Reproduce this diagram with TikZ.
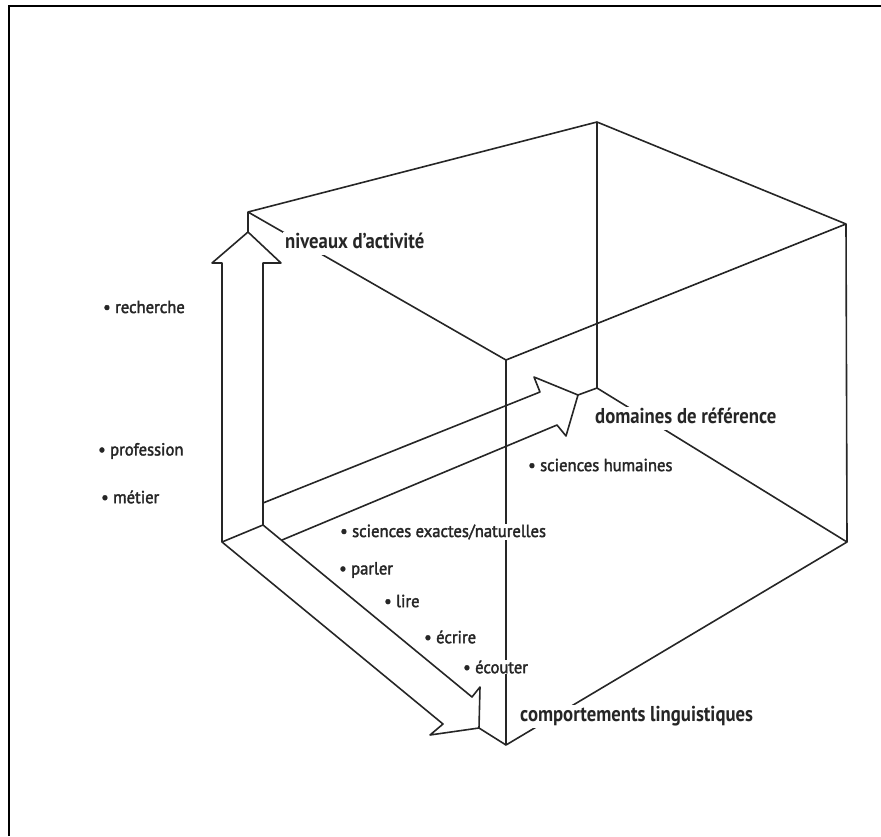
\documentclass[tikz,border=0pt]{standalone}
\usepackage{fontspec}
\setmainfont{PT Sans}[FakeStretch=0.87]
\newfontfamily\itemfont{PT Sans}[FakeStretch=0.95, FakeBold=2]
\usetikzlibrary{calc}
\tikzset{edge/.style={line width=1.6pt, line join=round, draw=black!85}}

\begin{document}
\begin{tikzpicture}[
    x = 1pt, y = -1pt,
    head/.style = {fill=white, inner sep=2pt, anchor=west, text=black!85,
        text height=15pt, text depth=4pt,
        font=\bfseries\fontsize{21.5}{21.5}\selectfont},
    item/.style = {fill=white, inner sep=1pt, anchor=west, text=black!85,
        font=\itemfont\fontsize{17.5}{17.5}\selectfont}
  ]
  \useasboundingbox (0,0) rectangle (881,836);
  \draw[line width=2.2pt] (9,836) -- (9,5.7) -- (881,5.7);

  % cube corners
  \foreach \n/\x/\y in {A/248/212, B/597/122, C/846/224, D/506/360,
                        E/597/388, F/847/542, G/506/745}
    \coordinate (\n) at (\x,\y);
  % hollow arrows
  \foreach \n/\x/\y in {n0/222/542, n1/222/263, n2/212/263, n3/248/232,
                        n4/281/263, n5/263/263, n6/263/525,
                        d0/263/503, d1/540/392, d2/534/377, d3/578/395,
                        d4/566/436, d5/557/425, d6/282/540,
                        c1/472/697, c2/480/687, c3/479/728,
                        c4/430/735, c5/443/724}
    \coordinate (\n) at (\x,\y);

  \draw[edge] (A) -- (B) -- (C) -- (D) -- cycle;
  \draw[edge] (B) -- (E) -- (F) -- (C);
  \draw[edge] (D) -- (G) -- (F);

  \draw[edge] (n0) -- (n1) -- (n2) -- (n3) -- (n4) -- (n5) -- (n6)
    -- (c1) -- (c2) -- (c3) -- (c4) -- (c5) -- cycle;
  \draw[edge] (n6) -- (n0);
  \draw[edge] (d0) -- (d1) -- (d2) -- (d3) -- (d4) -- (d5) -- (d6);
  \draw[edge] (A) -- (n3);
  \draw[edge] (E) -- (d3);
  \draw[edge] (G) -- (c3);

  % axes
  \node[head] (niveaux) at (283,243) {niveaux d'activité};
  \node[head] (domaines) at (593,418) {domaines de référence};
  \node[head] (comport) at (518,716) {comportements linguistiques};

  % values
  \node[item] (recherche) at (102,307) {\textbullet\ recherche};
  \node[item] (profession) at (97,451) {\textbullet\ profession};
  \node[item] (metier) at (100,497) {\textbullet\ métier};
  \node[item] (humaines) at (527,465) {\textbullet\ sciences humaines};
  \node[item] (exactes) at (339,532) {\textbullet\ sciences exactes/naturelles};
  \node[item] (parler) at (338,570) {\textbullet\ parler};
  \node[item] (lire) at (383,601) {\textbullet\ lire};
  \node[item] (ecrire) at (423,637) {\textbullet\ écrire};
  \node[item] (ecouter) at (462,667) {\textbullet\ écouter};
\end{tikzpicture}
\end{document}
